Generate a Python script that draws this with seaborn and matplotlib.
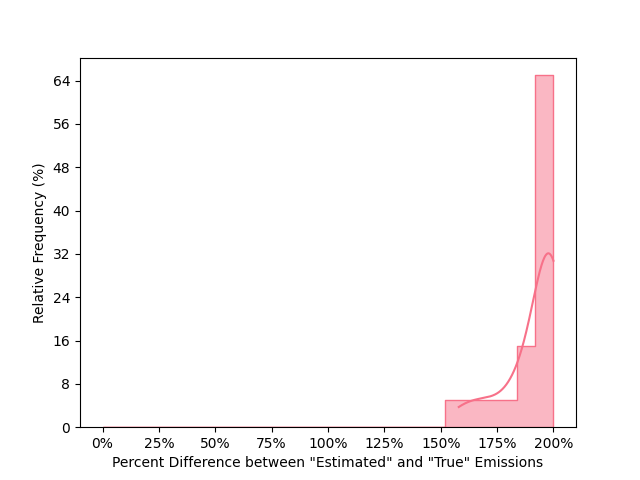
import numpy as np
import pandas as pd
import matplotlib
matplotlib.use('Agg')
import matplotlib.pyplot as plt
import seaborn as sns
from matplotlib.ticker import FuncFormatter, MultipleLocator

# percent differences, one value per run
pct_diff = [158, 166, 173, 181,
            186, 188, 190,
            195, 196.5, 197.5, 198, 198.5, 199, 199.2, 199.4, 199.6, 199.7, 199.8, 199.9, 200]
df = pd.DataFrame({'pct_diff': pct_diff})

fig, ax = plt.subplots(figsize=(6.4, 4.8), dpi=100)
sns.histplot(data=df, x='pct_diff', bins=25, binrange=(0, 200), stat='percent',
             element='step', kde=True, color='#f77189', alpha=0.5, ax=ax)
ax.xaxis.set_major_locator(MultipleLocator(25))
ax.xaxis.set_major_formatter(FuncFormatter(lambda v, p: f'{v:.0f}%'))
ax.yaxis.set_major_locator(MultipleLocator(8))
ax.set_xlabel('Percent Difference between "Estimated" and "True" Emissions')
ax.set_ylabel('Relative Frequency (%)')
fig.savefig('out.png')
